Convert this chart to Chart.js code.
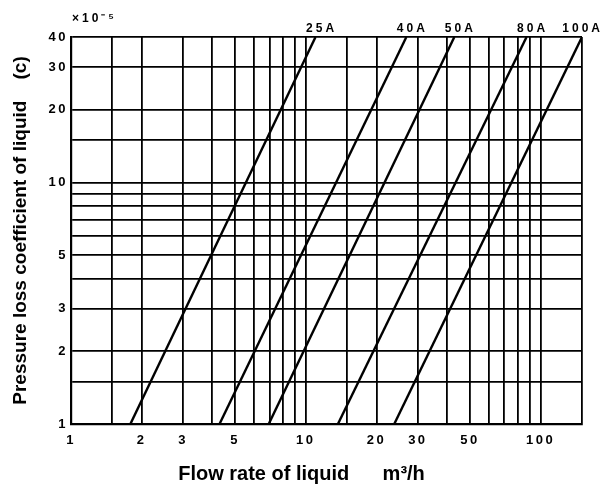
<!DOCTYPE html>
<html><head><meta charset="utf-8">
<script src="https://cdn.jsdelivr.net/npm/chart.js@4.4.1/dist/chart.umd.min.js"></script>
<style>html,body{margin:0;padding:0;background:#fff}canvas{display:block}</style>
</head><body>
<canvas id="c" width="603" height="486"></canvas>
<script>
// ---- data ----
const seriesNames = ['25A', '40A', '50A', '80A', '100A'];
const flowAtC1  = [1.79, 4.29, 6.95, 13.7, 23.8];   // flow (m3/h) where c = 1
const flowAtC40 = [11.0, 26.8, 42.9, 87.1, 150];    // flow (m3/h) where c = 40
const cValues = [1, 40];
const xGrid = [1, 1.5, 2, 3, 4, 5, 6, 7, 8, 9, 10, 15, 20, 30, 40, 50, 60, 70, 80, 90, 100, 150];
const xTickLabels = [1, 2, 3, 5, 10, 20, 30, 50, 100];
const yGrid = [1, 1.5, 2, 3, 4, 5, 6, 7, 8, 9, 10, 15, 20, 30, 40];
const yTickLabels = [1, 2, 3, 5, 10, 20, 30, 40];
const xTitle = 'Flow rate of liquid      m³/h';
const yTitle = 'Pressure loss coefficient of liquid    (c)';
const yUnit = '×10⁻⁵';

const FAM = '"Liberation Sans", Arial, Helvetica, sans-serif';

const datasets = seriesNames.map((n, i) => ({
  label: n,
  data: [{x: flowAtC1[i], y: cValues[0]}, {x: flowAtC40[i], y: cValues[1]}],
  showLine: true,
  borderColor: '#000',
  borderWidth: 2.4,
  pointRadius: 0,
  fill: false
}));

const spacingPlugin = {
  id: 'spacing',
  afterUpdate(chart) {
    Object.values(chart.scales).forEach(s => {
      if (s._spaced) return;
      const orig = s.drawLabels;
      s.drawLabels = function (a) {
        const c = this.ctx; c.save(); c.letterSpacing = '2.5px'; orig.call(this, a); c.restore();
      };
      s._spaced = true;
    });
  }
};

const labelsPlugin = {
  id: 'seriesLabels',
  afterDraw(chart) {
    const {ctx, chartArea, scales: {x}} = chart;
    ctx.save();
    ctx.fillStyle = '#000';
    ctx.font = 'bold 12px ' + FAM;
    ctx.letterSpacing = '3px';
    ctx.textBaseline = 'middle';
    ctx.textAlign = 'center';
    seriesNames.forEach((n, i) => {
      const w = ctx.measureText(n).width;
      let px = x.getPixelForValue(flowAtC40[i]) + 6;
      px = Math.min(px, chart.width - w / 2);
      ctx.fillText(n, px, chartArea.top - 8);
    });
    ctx.textAlign = 'left';
    ctx.fillText(yUnit, chartArea.left + 1, 19);
    ctx.restore();
  }
};

const tickFont = {family: FAM, size: 13, weight: 'bold'};

new Chart(document.getElementById('c'), {
  type: 'scatter',
  data: {datasets},
  options: {
    responsive: false,
    animation: false,
    layout: {padding: {top: 37, right: 0, left: 0, bottom: 0}},
    plugins: {
      legend: {display: false},
      tooltip: {enabled: false},
      title: {
        display: true, position: 'bottom', text: xTitle, color: '#000',
        font: {family: FAM, size: 20, weight: 'bold'},
        padding: {top: 4, bottom: 0}
      }
    },
    scales: {
      x: {
        type: 'logarithmic', min: 1, max: 150,
        afterBuildTicks: s => { s.ticks = xGrid.map(v => ({value: v})); },
        afterFit: s => { s.height = 34; },
        ticks: {
          autoSkip: false, maxRotation: 0, minRotation: 0, padding: 9, color: '#000', font: tickFont,
          callback: v => xTickLabels.includes(v) ? String(v) : ''
        },
        grid: {color: '#000', lineWidth: 1.8, drawTicks: false},
        border: {display: true, color: '#000', width: 2.2}
      },
      y: {
        type: 'logarithmic', min: 1, max: 40,
        afterBuildTicks: s => { s.ticks = yGrid.map(v => ({value: v})); },
        afterFit: s => { s.width = 71; },
        ticks: {
          autoSkip: false, padding: 3, color: '#000', font: tickFont,
          callback: v => yTickLabels.includes(v) ? String(v) : ''
        },
        grid: {color: '#000', lineWidth: 1.8, drawTicks: false},
        border: {display: true, color: '#000', width: 2.2},
        title: {
          display: true, text: yTitle, color: '#000',
          font: {family: FAM, size: 19, weight: 'bold'},
          padding: {top: 9, bottom: 0}
        }
      },
      yPad: {
        position: 'right', display: true,
        afterFit: s => { s.width = 21; },
        ticks: {display: false}, grid: {display: false}, border: {display: false}
      }
    }
  },
  plugins: [spacingPlugin, labelsPlugin]
});
</script>
</body></html>
